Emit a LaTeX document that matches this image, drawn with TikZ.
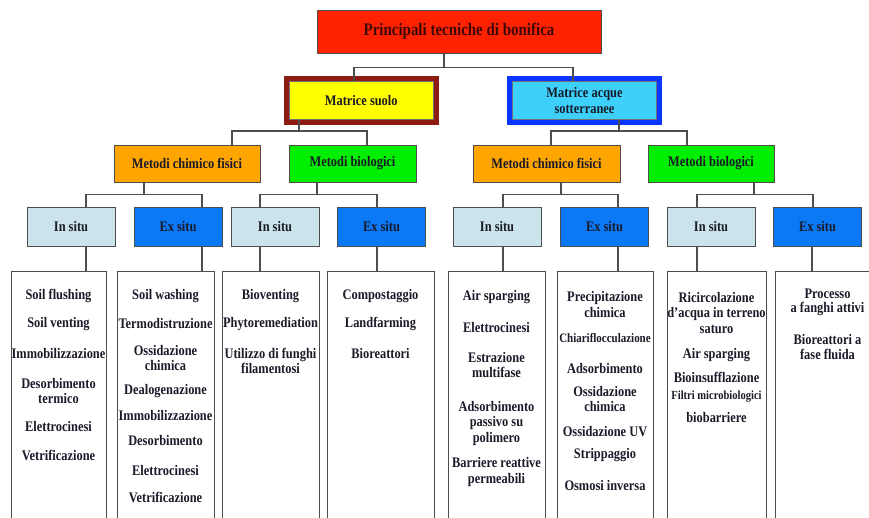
\documentclass[tikz,border=0pt]{standalone}
\usepackage{fontspec}
\setmainfont{Liberation Serif}[FakeStretch=0.85]
\usepackage{tikz}
\usetikzlibrary{positioning}
\definecolor{bonRed}{HTML}{FF2200}
\definecolor{bonTitle}{HTML}{3E0808}
\definecolor{bonMaroon}{HTML}{8C1C12}
\definecolor{bonYellow}{HTML}{FFFF00}
\definecolor{bonBlue}{HTML}{0A35FF}
\definecolor{bonCyan}{HTML}{3CD0FA}
\definecolor{bonOrange}{HTML}{FFA500}
\definecolor{bonGreen}{HTML}{00EE00}
\definecolor{bonPale}{HTML}{CBE4EB}
\definecolor{bonSky}{HTML}{0B78F5}
\definecolor{bonInk}{HTML}{1A1A28}
\definecolor{bonLine}{HTML}{4D4D4D}

\begin{document}
\begin{tikzpicture}[x=1pt, y=-1pt,
    box/.style={draw=bonLine, line width=1pt, text=bonInk, align=center, inner sep=2pt,
      font=\fontsize{14.6}{16}\selectfont\bfseries},
    liste/.style={draw=bonLine, line width=0.9pt, fill=white, minimum width=#1,
      minimum height=262, inner sep=0pt},
    item/.style={text=bonInk, align=center, inner sep=0pt,
      font=\fontsize{14.6}{15.5}\selectfont\bfseries},
    link/.style={draw=bonLine, line width=1.2pt}]
  \clip (0,0) rectangle (869,517);
  \fill[white] (0,0) rectangle (869,517);

  % livello 1 e 2
  \node[box, fill=bonRed, minimum width=284, minimum height=43, text=bonTitle,
    font=\fontsize{17.6}{20}\selectfont\bfseries] (titolo) at (459,31.5)
    {Principali tecniche di bonifica};
  \node[box, fill=bonYellow, draw=bonMaroon, line width=5pt, minimum width=149.5,
    minimum height=44] (suolo) at (361.25,100.5) {Matrice suolo};
  \draw[bonLine!80, line width=0.6pt] ([shift={(5.5,5.5)}]suolo.north west)
    rectangle ([shift={(-5.5,-5.5)}]suolo.south east);
  \node[box, fill=bonCyan, draw=bonBlue, line width=5pt, minimum width=150,
    minimum height=44] (acque) at (584.5,100.5) {Matrice acque\\sotterranee};
  \draw[bonLine!80, line width=0.6pt] ([shift={(5.5,5.5)}]acque.north west)
    rectangle ([shift={(-5.5,-5.5)}]acque.south east);

  % livello 3
  \node[box, fill=bonOrange, minimum width=146, minimum height=37] (chim1) at (187,163.5) {Metodi chimico fisici};
  \node[box, fill=bonGreen, minimum width=127, minimum height=37] (bio1) at (352.5,163.5) {Metodi biologici};
  \node[box, fill=bonOrange, minimum width=147, minimum height=37] (chim2) at (546.5,163.5) {Metodi chimico fisici};
  \node[box, fill=bonGreen, minimum width=126, minimum height=37] (bio2) at (711,163.5) {Metodi biologici};

  % livello 4
  \foreach \n/\x/\c/\t in {situ1/71/bonPale/In situ, ex1/178/bonSky/Ex situ,
      situ2/275/bonPale/In situ, ex2/381.5/bonSky/Ex situ,
      situ3/497/bonPale/In situ, ex3/604.5/bonSky/Ex situ,
      situ4/711/bonPale/In situ, ex4/817.5/bonSky/Ex situ}
    \node[box, fill=\c, minimum width=88, minimum height=39] (\n) at (\x,226.5) {\t};

  % elenchi
  \foreach \n/\x/\w in {lista1/58.5/95, lista2/165.5/97, lista3/270.5/97, lista4/380.5/107,
      lista5/496.5/97, lista6/605/96, lista7/716.5/99, lista8/827.5/105}
    \node[liste=\w] (\n) at (\x,402) {};

  \foreach \t/\y [count=\i] in {Soil flushing/296, Soil venting/324, Immobilizzazione/353,
      {Desorbimento\\termico}/391, Elettrocinesi/426, Vetrificazione/455}
    \node[item] (voceA\i) at (lista1 |- 0,\y) {\t};
  \foreach \t/\y [count=\i] in {Soil washing/296, Termodistruzione/324, {Ossidazione\\chimica}/358,
      Dealogenazione/391, Immobilizzazione/415, Desorbimento/440, Elettrocinesi/470,
      Vetrificazione/497}
    \node[item] (voceB\i) at (lista2 |- 0,\y) {\t};
  \foreach \t/\y [count=\i] in {Bioventing/296, Phytoremediation/324,
      {Utilizzo di funghi\\filamentosi}/361}
    \node[item] (voceC\i) at (lista3 |- 0,\y) {\t};
  \foreach \t/\y [count=\i] in {Compostaggio/296, Landfarming/324, Bioreattori/353}
    \node[item] (voceD\i) at (lista4 |- 0,\y) {\t};
  \foreach \t/\y [count=\i] in {Air sparging/297, Elettrocinesi/327, {Estrazione\\multifase}/365,
      {Adsorbimento\\passivo su\\polimero}/423, {Barriere reattive\\permeabili}/472}
    \node[item] (voceE\i) at (lista5 |- 0,\y) {\t};
  \foreach \t/\y [count=\i] in {{Precipitazione\\chimica}/304.5,
      {{\fontsize{12.9}{14}\selectfont Chiariflocculazione}}/338, Adsorbimento/368,
      {Ossidazione\\chimica}/399, Ossidazione UV/432, Strippaggio/455, Osmosi inversa/485}
    \node[item] (voceF\i) at (lista6 |- 0,\y) {\t};
  \foreach \t/\y [count=\i] in {{Ricircolazione\\d'acqua in terreno\\saturo}/313, Air sparging/355,
      Bioinsufflazione/377, {{\fontsize{12.4}{14}\selectfont Filtri microbiologici}}/397,
      biobarriere/417}
    \node[item] (voceG\i) at (lista7 |- 0,\y) {\t};
  \foreach \t/\y [count=\i] in {{Processo\\[-1.5pt]a fanghi attivi}/302, {Bioreattori a\\fase fluida}/347}
    \node[item] (voceH\i) at (lista8 |- 0,\y) {\t};

  % collegamenti
  \draw[link] ([xshift=-15]titolo.south) -- ++(0,14) coordinate (nodo0);
  \draw[link] (nodo0) -| ([xshift=-7.25, yshift=-5]suolo.north);
  \draw[link] (nodo0) -| ([xshift=-11.5, yshift=-5]acque.north);
  \draw[link] ([xshift=-62.25, yshift=5]suolo.south) -- ++(0,11) coordinate (nodo1);
  \draw[link] (nodo1) -| ([xshift=45]chim1.north);
  \draw[link] (nodo1) -| ([xshift=14.5]bio1.north);
  \draw[link] ([xshift=34.5, yshift=5]acque.south) -- ++(0,11) coordinate (nodo2);
  \draw[link] (nodo2) -| ([xshift=4.5]chim2.north);
  \draw[link] (nodo2) -| ([xshift=-24]bio2.north);
  \foreach \p/\op/\a/\oa/\b/\ob in {chim1/-43/situ1/15/ex1/24, bio1/-35.5/situ2/-15/ex2/-4.5,
      chim2/14.5/situ3/6/ex3/13.5, bio2/43/situ4/-14/ex4/-4.5} {
    \draw[link] ([xshift=\op]\p.south) -- ++(0,12) coordinate (snodo);
    \draw[link] (snodo) -| ([xshift=\oa]\a.north);
    \draw[link] (snodo) -| ([xshift=\ob]\b.north);
  }
  \foreach \a/\b/\x in {situ1/lista1/86, ex1/lista2/202, situ2/lista3/260, ex2/lista4/377,
      situ3/lista5/503, ex3/lista6/618, situ4/lista7/697, ex4/lista8/812}
    \draw[link] (\a.south -| \x,0) -- (\b.north -| \x,0);
\end{tikzpicture}
\end{document}
